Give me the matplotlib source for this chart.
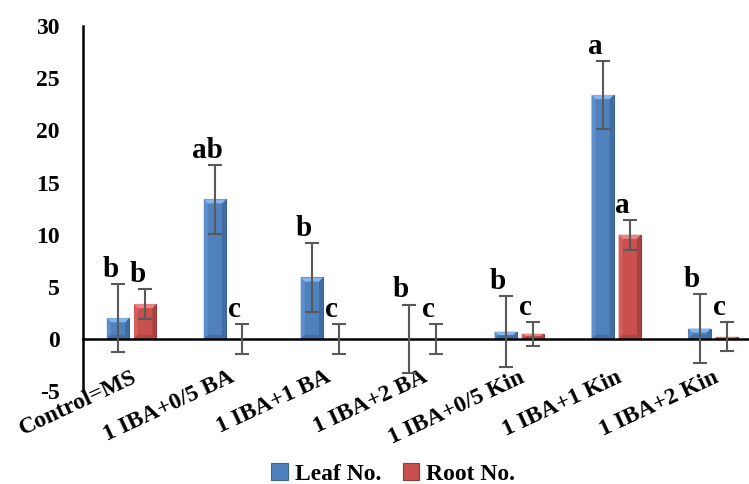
import matplotlib.pyplot as plt
from matplotlib.patches import Polygon
import numpy as np

plt.rcParams['font.family'] = ['Liberation Serif', 'DejaVu Serif']
plt.rcParams['font.weight'] = 'bold'
plt.rcParams['axes.unicode_minus'] = False

categories = ["Control=MS", "1 IBA+0/5 BA", "1 IBA+1 BA", "1 IBA+2 BA",
              "1 IBA+0/5 Kin", "1 IBA+1 Kin", "1 IBA+2 Kin"]
leaf = [2.0, 13.4, 5.9, 0.0, 0.7, 23.4, 1.0]
leaf_err = [3.3, 3.3, 3.3, 3.3, 3.4, 3.3, 3.3]
root = [3.35, 0.0, 0.0, 0.0, 0.5, 10.0, 0.2]
root_err = [1.4, 1.4, 1.4, 1.4, 1.15, 1.45, 1.4]
leaf_letters = ["b", "ab", "b", "b", "b", "a", "b"]
root_letters = ["b", "c", "c", "c", "c", "a", "c"]


def bevel(ax, bars, light, top, dark, bottom):
    # fake the excel bevel look: light top/left, dark right/bottom
    for b in bars:
        x0, w, h = b.get_x(), b.get_width(), b.get_height()
        if h <= 0:
            continue
        x1 = x0 + w
        d = w * 0.18
        t = min(0.4, h / 2)
        ax.add_patch(Polygon([(x0, 0), (x0 + d, t), (x0 + d, h - t), (x0, h)],
                             closed=True, color=light, lw=0, zorder=2.1))
        ax.add_patch(Polygon([(x1, 0), (x1 - d, t), (x1 - d, h - t), (x1, h)],
                             closed=True, color=dark, lw=0, zorder=2.1))
        ax.add_patch(Polygon([(x0, h), (x0 + d, h - t), (x1 - d, h - t), (x1, h)],
                             closed=True, color=top, lw=0, zorder=2.1))
        ax.add_patch(Polygon([(x0, 0), (x0 + d, t), (x1 - d, t), (x1, 0)],
                             closed=True, color=bottom, lw=0, zorder=2.1))


fig = plt.figure(figsize=(7.49, 4.84), dpi=100)
fig.set_facecolor("white")
ax = fig.add_axes([0.111, 0.192, 0.889, 0.754])

x = np.arange(len(categories))
w = 0.23
off = 0.14

b1 = ax.bar(x - off, leaf, w, color="#4F81BD", edgecolor="#3B6493", linewidth=0.8,
            label="Leaf No.", zorder=2)
b2 = ax.bar(x + off, root, w, color="#C9504D", edgecolor="#933A38", linewidth=0.8,
            label="Root No.", zorder=2)
bevel(ax, b1, "#5C8FCC", "#86B5EC", "#3F6CA3", "#43709F")
bevel(ax, b2, "#D35F5C", "#E88583", "#A8423F", "#AE4744")

ax.errorbar(x - off, leaf, yerr=leaf_err, fmt="none", ecolor="#595959",
            elinewidth=1.5, capsize=5, capthick=1.5, zorder=3)
ax.errorbar(x + off, root, yerr=root_err, fmt="none", ecolor="#595959",
            elinewidth=1.5, capsize=5, capthick=1.5, zorder=3)

for i in range(len(categories)):
    ax.text(x[i] - off - 0.08, leaf[i] + leaf_err[i] + 0.1, leaf_letters[i],
            ha="center", va="bottom", fontsize=21, fontweight="bold", zorder=4)
    ax.text(x[i] + off - 0.08, root[i] + root_err[i] + 0.1, root_letters[i],
            ha="center", va="bottom", fontsize=21, fontweight="bold", zorder=4)

for s in ["top", "right"]:
    ax.spines[s].set_visible(False)
ax.spines["bottom"].set_position(("data", 0))
ax.spines["bottom"].set_linewidth(1.8)
ax.spines["left"].set_linewidth(1.8)

ax.set_xlim(-0.5, 6.37)
ax.set_ylim(-5, 30)
ax.set_yticks(range(-5, 31, 5))
ax.set_xticks(x)
ax.set_xticklabels(categories, rotation=25, ha="right", rotation_mode="anchor")
ax.tick_params(axis="y", length=0, pad=17, labelsize=17)
ax.tick_params(axis="x", length=0, pad=20, labelsize=17)

ax.legend(loc="lower center", bbox_to_anchor=(0.525, -0.045), ncol=2,
          bbox_transform=fig.transFigure, frameon=False, fontsize=17,
          handlelength=0.7, handleheight=0.7, handletextpad=0.3,
          columnspacing=0.9)

plt.savefig("out.png", dpi=100)
